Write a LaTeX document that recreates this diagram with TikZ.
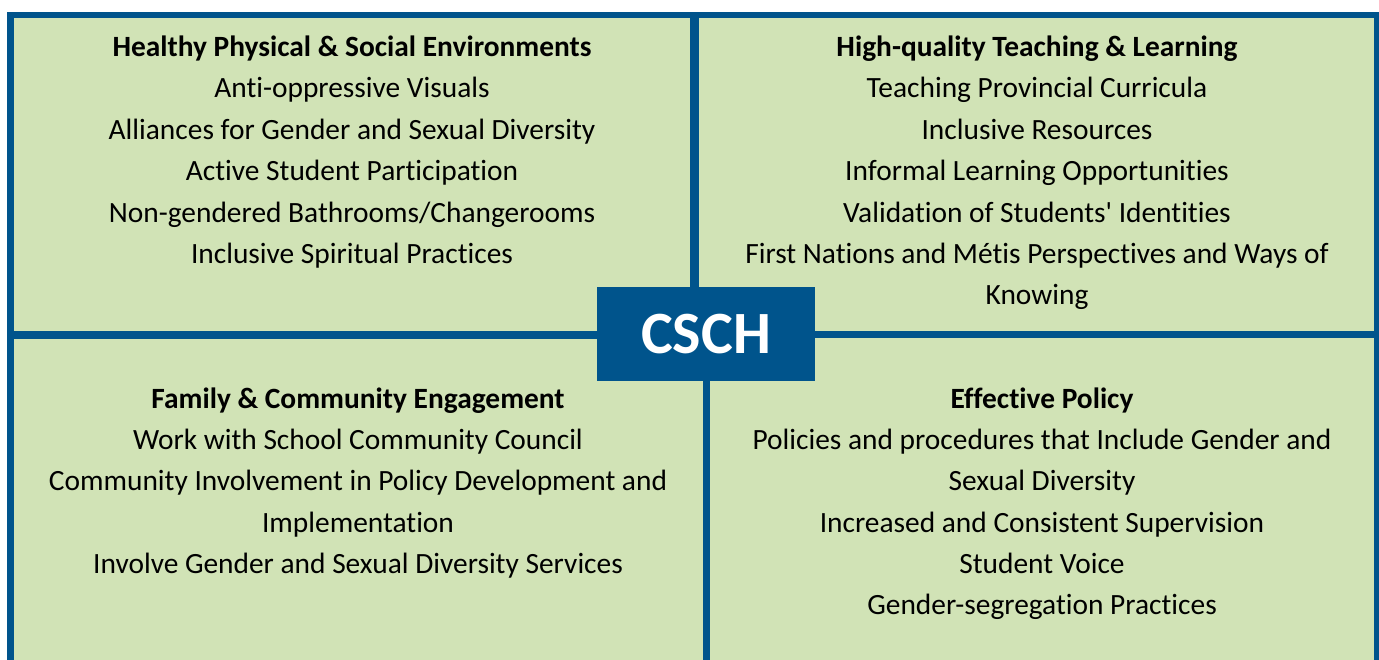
\documentclass[tikz,border=0pt]{standalone}
\usepackage{fontspec}
\setmainfont{Carlito}[Ligatures=CommonOff]
\definecolor{qgreen}{RGB}{209,227,182}
\definecolor{qblue}{RGB}{0,84,140}
\begin{document}
\begin{tikzpicture}[x=1pt,y=-1pt,
  txt/.style={anchor=base,inner sep=0pt,font=\fontsize{29.4}{33}\selectfont,text=black},
  ttl/.style={txt,font=\fontsize{29.4}{33}\selectfont\bfseries},
  bar/.style={fill=qblue}]
\useasboundingbox (0,0) rectangle (1379,660);
\fill[white] (0,0) rectangle (1379,660);
% quadrants
\fill[qgreen] (7,12) rectangle (1379,660);
\fill[bar] (7,12) rectangle (1379,18.5);
\fill[bar] (7,12) rectangle (14,660);
\fill[bar] (1374,12) rectangle (1379,660);
\fill[bar] (7,331.5) rectangle (700,339);
\fill[bar] (690,331) rectangle (1379,338.5);
\fill[bar] (690,12) rectangle (699,336);
\fill[bar] (703,335) rectangle (710,660);
% centre
\node[fill=qblue,minimum width=218pt,minimum height=94pt,inner sep=0pt,
  text=white,font=\fontsize{60}{62}\selectfont\bfseries] (csch) at (706,334) {CSCH};
% top left
\node[ttl] (tl0) at (352,56.5) {Healthy Physical \& Social Environments};
\foreach \t [count=\i] in {Anti-oppressive Visuals,Alliances for Gender and Sexual Diversity,Active Student Participation,Non-gendered Bathrooms/Changerooms,Inclusive Spiritual Practices}
  \node[txt] (tl\i) at (352,{56.5+41.4*\i}) {\t};
% top right
\node[ttl] (tr0) at (1037,56.5) {High-quality Teaching \& Learning};
\foreach \t [count=\i] in {Teaching Provincial Curricula,Inclusive Resources,Informal Learning Opportunities,Validation of Students\textquotesingle\ Identities,First Nations and Métis Perspectives and Ways of,Knowing}
  \node[txt] (tr\i) at (1037,{56.5+41.4*\i}) {\t};
% bottom left
\node[ttl] (bl0) at (358,408.5) {Family \& Community Engagement};
\foreach \t [count=\i] in {Work with School Community Council,Community Involvement in Policy Development and,Implementation,Involve Gender and Sexual Diversity Services}
  \node[txt] (bl\i) at (358,{408.5+41.2*\i}) {\t};
% bottom right
\node[ttl] (br0) at (1042,408.5) {Effective Policy};
\foreach \t [count=\i] in {Policies and procedures that Include Gender and,Sexual Diversity,Increased and Consistent Supervision,Student Voice,Gender-segregation Practices}
  \node[txt] (br\i) at (1042,{408.5+41.2*\i}) {\t};
\end{tikzpicture}
\end{document}
